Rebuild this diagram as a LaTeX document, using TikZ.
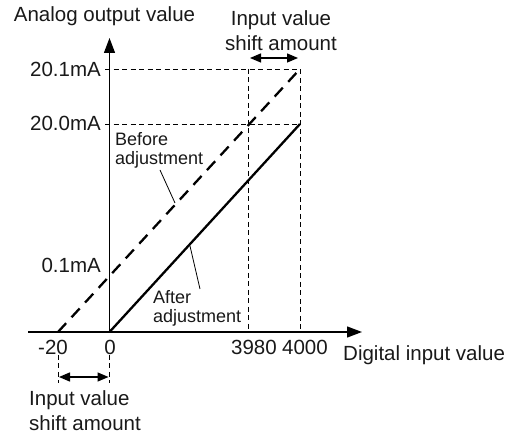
\documentclass[tikz,border=0pt]{standalone}
\usepackage{fontspec}
\setmainfont{Liberation Sans}
\usetikzlibrary{arrows.meta}
\begin{document}
\begin{tikzpicture}[x=1pt,y=-1pt,
  lbl/.style={font=\fontsize{20.5}{25}\selectfont, inner sep=0pt, text=black!90},
  small/.style={font=\fontsize{18}{19}\selectfont, inner sep=0pt, align=left, text=black!90},
  axis/.style={line width=1.3pt, -{Triangle[length=15pt,width=11pt]}},
  guide/.style={line width=0.9pt, dash pattern=on 5pt off 3.5pt},
  shiftarrow/.style={line width=1.3pt, {Triangle[length=11pt,width=9pt]}-{Triangle[length=11pt,width=9pt]}},
  leader/.style={line width=0.8pt},
  graphline/.style={line width=2.3pt}]
\useasboundingbox (0,0) rectangle (512,435);
% key points
\coordinate (O) at (109.5,332);
\coordinate (xs) at (28,332);
\coordinate (xe) at (362,332);
\coordinate (ye) at (109.5,38);
\coordinate (m20) at (58,332);
\coordinate (x3980) at (248,332);
\coordinate (x4000) at (300,332);
\coordinate (g201) at (105,69);
\coordinate (g200) at (105,124);
\coordinate (P201) at (300,69);
\coordinate (P200) at (300,124);
\coordinate (Q201) at (248,69);
% guides
\draw[guide] (g201) -- (P201) -- (x4000);
\draw[guide] (g200) -- (P200);
\draw[guide] (Q201) -- (x3980);
% axes
\draw[axis] (xs) -- (xe);
\draw[axis] (O) -- (ye);
% graph lines
\draw[graphline, dash pattern=on 12pt off 8pt] (m20) -- (P201);
\draw[graphline] (O) -- (P200);
% top shift amount
\coordinate (sa1) at (250,58);
\coordinate (sa2) at (298,58);
\draw[shiftarrow] (sa1) -- (sa2);
\node[lbl, align=center] (topshift) at (281,31) {Input value\\shift amount};
% bottom shift amount
\coordinate (b1t) at (58,355);
\coordinate (b1b) at (58,383);
\coordinate (b2t) at (109.5,355);
\coordinate (b2b) at (109.5,383);
\draw[guide] (b1t) -- (b1b);
\draw[guide] (b2t) -- (b2b);
\coordinate (sb1) at (59,377);
\coordinate (sb2) at (108.5,377);
\draw[shiftarrow] (sb1) -- (sb2);
\node[lbl, align=left, anchor=north west] (botshift) at (29,390) {Input value\\shift amount};
% axis titles
\node[lbl, anchor=base] (ylab) at (104.5,22) {Analog output value};
\node[lbl, anchor=base west] (xlab) at (343,361) {Digital input value};
% tick labels
\node[lbl, anchor=base east] (t201) at (101,77) {20.1mA};
\node[lbl, anchor=base east] (t200) at (101,131) {20.0mA};
\node[lbl, anchor=base east] (t01) at (101,273) {0.1mA};
\node[lbl, anchor=base] (tm20) at (53,355) {-20};
\node[lbl, anchor=base] (t0) at (110,355) {0};
\node[lbl, anchor=base] (t3980) at (254,355) {3980};
\node[lbl, anchor=base] (t4000) at (305,355) {4000};
% line labels
\node[small, anchor=north west] (before) at (115,132) {Before\\adjustment};
\coordinate (bl1) at (160,170);
\coordinate (bl2) at (175,203);
\draw[leader] (bl1) -- (bl2);
\node[small, anchor=north west] (after) at (153,290) {After\\adjustment};
\coordinate (al1) at (190,246);
\coordinate (al2) at (200,289);
\draw[leader] (al1) -- (al2);
\end{tikzpicture}
\end{document}
